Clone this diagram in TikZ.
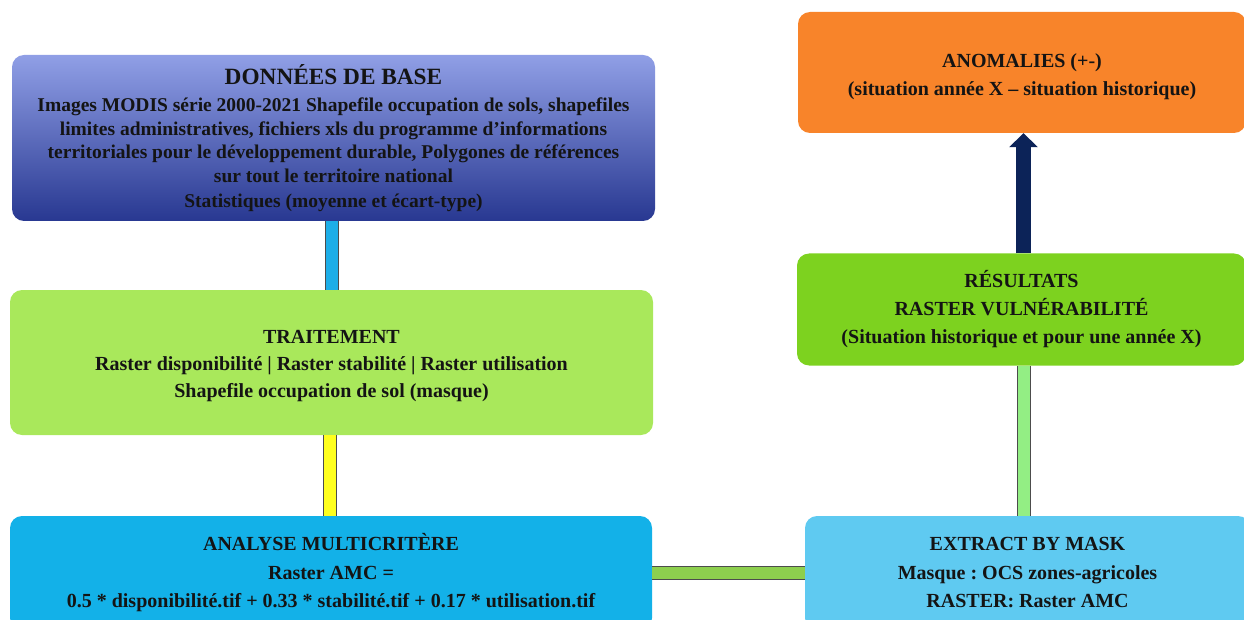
\documentclass[tikz,border=0pt]{standalone}
\usepackage{fontspec}
\setmainfont{Liberation Serif}
\usetikzlibrary{arrows.meta,calc}
\definecolor{donTop}{HTML}{909FE6}
\definecolor{donBot}{HTML}{283891}
\definecolor{traitC}{HTML}{A9E85B}
\definecolor{analC}{HTML}{13B1E8}
\definecolor{extrC}{HTML}{5FCAF1}
\definecolor{resC}{HTML}{7DD21F}
\definecolor{anomC}{HTML}{F8842A}
\definecolor{arrC}{HTML}{0C2358}
\definecolor{blueL}{HTML}{1DAEE8}
\definecolor{yelL}{HTML}{FFFF1E}
\definecolor{lgrL}{HTML}{93EE84}
\definecolor{hgrL}{HTML}{8DCF4E}
\definecolor{txt}{HTML}{141414}
\newcommand{\bigT}{\fontsize{23.3}{27}\selectfont}
\newcommand{\midT}{\fontsize{19.5}{23.7}\selectfont}
\newcommand{\pushdn}[1]{\rule{0pt}{#1}}
\frenchspacing
\tikzset{
  x=1pt,y=-1pt,
  box/.style={rounded corners=12pt, inner sep=0pt, align=center, text=txt,
     font=\bfseries\fontsize{20}{27}\selectfont},
  link/.style={line width=1.2pt, draw=black!70, double distance=11.5pt},
}
\begin{document}
\begin{tikzpicture}
\useasboundingbox (0,0) rectangle (1244,620);
\begin{scope}
\clip (0,0) rectangle (1244,620);
% boxes
\node[box, top color=donTop, bottom color=donBot, minimum width=643pt, minimum height=166pt,
      font=\bfseries\midT] (don) at (333.5,138)
 {\bigT DONNÉES DE BASE\\[3.3pt]
  \midT Images MODIS série 2000-2021 Shapefile occupation de sols, shapefiles\\
  \midT limites administratives, fichiers xls du programme d’informations\\
  \midT territoriales pour le développement durable, Polygones de références\\
  \midT sur tout le territoire national\\[1.3pt]
  \midT Statistiques (moyenne et écart-type)};
\node[box, fill=traitC, minimum width=643pt, minimum height=145pt] (trait) at (331.5,362.5)
 {\pushdn{20pt}TRAITEMENT\\ Raster disponibilité | Raster stabilité | Raster utilisation\\ Shapefile occupation de sol (masque)};
\node[box, fill=analC, minimum width=642pt, minimum height=114pt, font=\bfseries\fontsize{20}{28.5}\selectfont] (anal) at (331,573)
 {ANALYSE MULTICRITÈRE\\ Raster AMC =\\ 0.5 * disponibilité.tif + 0.33 * stabilité.tif + 0.17 * utilisation.tif};
\node[box, fill=extrC, minimum width=445pt, minimum height=114pt, font=\bfseries\fontsize{20}{28.5}\selectfont] (extr) at (1027.5,573)
 {EXTRACT BY MASK\\ Masque : OCS zones-agricoles\\ RASTER: Raster AMC};
\node[box, fill=resC, minimum width=449pt, minimum height=112pt, font=\bfseries\fontsize{20}{28}\selectfont] (res) at (1021.5,309.5)
 {RÉSULTATS\\ RASTER VULNÉRABILITÉ\\ (Situation historique et pour une année X)};
\node[box, fill=anomC, minimum width=448pt, minimum height=121pt, font=\bfseries\fontsize{20}{28}\selectfont] (anom) at (1022,72.5)
 {\pushdn{22pt}ANOMALIES (+-)\\ (situation année X – situation historique)};
% connector x positions
\coordinate (bx) at (332,0);
\coordinate (yx) at (330,0);
\coordinate (ax) at (1023.5,0);
\coordinate (gx) at (1024,0);
% connectors
\draw[link, double=blueL] (bx |- don.south) -- (bx |- trait.north);
\draw[link, double=yelL] (yx |- trait.south) -- (yx |- anal.north);
\draw[link, double=hgrL] (anal.east) -- (extr.west);
\draw[link, double=lgrL] (gx |- res.south) -- (gx |- extr.north);
\draw[line width=15pt, draw=arrC, -{Triangle[width=28pt,length=14pt]}] (ax |- res.north) -- (ax |- anom.south);
\end{scope}
\end{tikzpicture}
\end{document}
